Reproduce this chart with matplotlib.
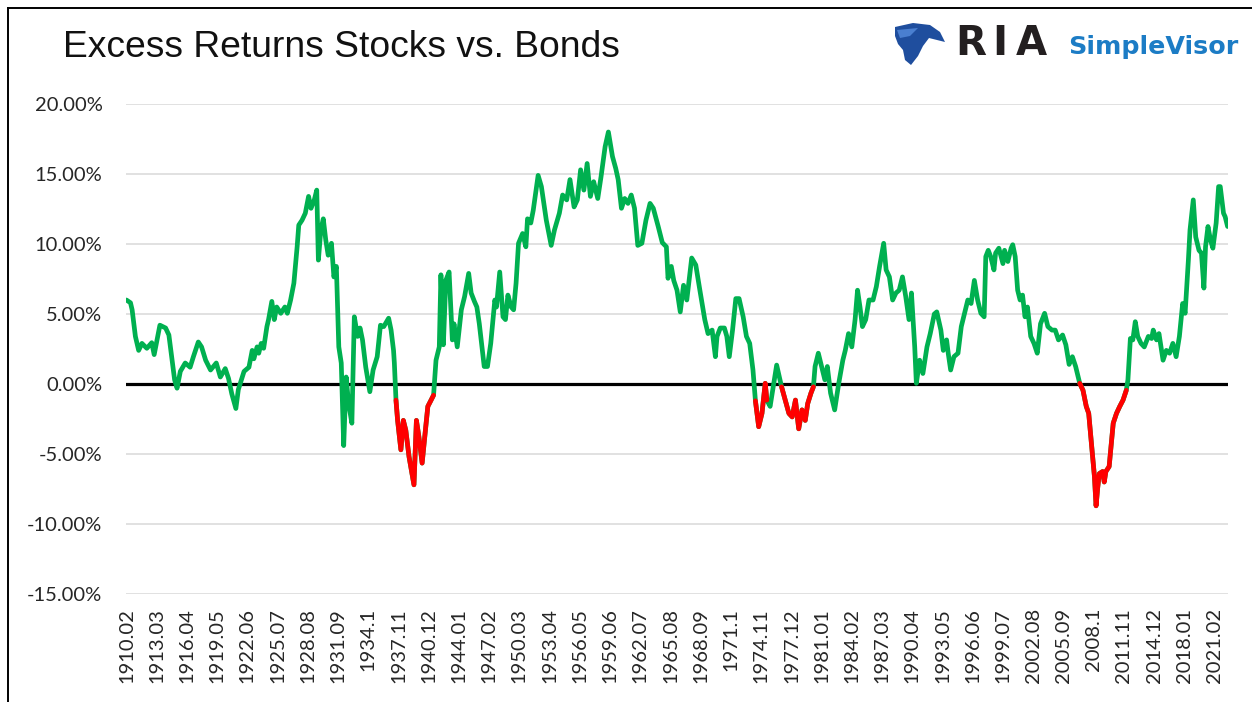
"""Excess returns of stocks over bonds, monthly 1910-2022."""

import numpy as np
import matplotlib
matplotlib.use("Agg")
import matplotlib.pyplot as plt
from matplotlib.patches import Polygon
from matplotlib.lines import Line2D

# values (percent)
dates = [
    "1910-02", "1910-07", "1910-09", "1911-01", "1911-05", "1911-09", "1912-03", "1912-09",
    "1912-12", "1913-07", "1914-02", "1914-06", "1915-01", "1915-04", "1915-08", "1916-02",
    "1916-08", "1916-12", "1917-06", "1917-10", "1918-03", "1918-09", "1919-04", "1919-09",
    "1920-03", "1920-07", "1920-11", "1921-04", "1921-07", "1922-02", "1922-08", "1922-12",
    "1923-02", "1923-06", "1923-08", "1923-11", "1924-02", "1924-06", "1924-08", "1924-12",
    "1925-03", "1925-06", "1925-11", "1926-04", "1926-07", "1926-11", "1927-03", "1927-07",
    "1927-09", "1928-01", "1928-05", "1928-09", "1928-12", "1929-04", "1929-07", "1929-09",
    "1929-12", "1930-03", "1930-06", "1930-09", "1931-01", "1931-04", "1931-07", "1931-10",
    "1932-01", "1932-04", "1932-07", "1932-10", "1933-02", "1933-05", "1933-09", "1933-12",
    "1934-03", "1934-07", "1934-12", "1935-04", "1935-09", "1936-01", "1936-05", "1936-11",
    "1937-02", "1937-05", "1937-06", "1937-08", "1937-10", "1938-02", "1938-05", "1938-08",
    "1938-12", "1939-06", "1939-09", "1939-12", "1940-04", "1940-08", "1940-11", "1941-03",
    "1941-06", "1941-09", "1942-01", "1942-03", "1942-06", "1942-09", "1943-01", "1943-05",
    "1943-07", "1943-11", "1944-04", "1944-08", "1945-01", "1945-04", "1945-08", "1945-11",
    "1946-02", "1946-08", "1946-12", "1947-04", "1947-09", "1947-11", "1948-03", "1948-07",
    "1948-10", "1949-01", "1949-05", "1949-08", "1949-11", "1950-02", "1950-07", "1950-11",
    "1951-01", "1951-05", "1951-08", "1952-02", "1952-06", "1952-12", "1953-06", "1953-10",
    "1954-04", "1954-08", "1955-01", "1955-05", "1955-10", "1956-02", "1956-06", "1956-10",
    "1957-02", "1957-06", "1957-10", "1958-03", "1958-07", "1958-12", "1959-04", "1959-09",
    "1960-01", "1960-04", "1960-08", "1960-12", "1961-04", "1961-08", "1961-12", "1962-04",
    "1962-09", "1963-02", "1963-07", "1963-11", "1964-05", "1964-10", "1965-03", "1965-05",
    "1965-09", "1965-12", "1966-04", "1966-08", "1966-12", "1967-04", "1967-10", "1968-03",
    "1968-08", "1969-02", "1969-06", "1969-11", "1970-03", "1970-05", "1970-09", "1971-02",
    "1971-05", "1971-08", "1971-12", "1972-04", "1972-08", "1973-01", "1973-05", "1973-09",
    "1974-01", "1974-04", "1974-08", "1974-12", "1975-04", "1975-06", "1975-10", "1976-06",
    "1976-12", "1977-09", "1978-01", "1978-05", "1978-09", "1979-01", "1979-05", "1979-08",
    "1979-12", "1980-03", "1980-05", "1980-09", "1981-01", "1981-05", "1981-08", "1981-12",
    "1982-05", "1982-10", "1983-03", "1983-06", "1983-10", "1984-02", "1984-06", "1984-09",
    "1984-12", "1985-03", "1985-07", "1985-11", "1986-04", "1986-08", "1986-12", "1987-05",
    "1987-08", "1987-12", "1988-04", "1988-08", "1988-12", "1989-04", "1989-08", "1989-12",
    "1990-03", "1990-07", "1990-09", "1991-01", "1991-05", "1991-10", "1992-02", "1992-07",
    "1992-10", "1993-03", "1993-06", "1993-10", "1993-12", "1994-03", "1994-07", "1994-12",
    "1995-04", "1995-08", "1995-12", "1996-04", "1996-08", "1996-12", "1997-04", "1997-08",
    "1997-10", "1998-01", "1998-04", "1998-08", "1998-10", "1999-02", "1999-07", "1999-09",
    "2000-01", "2000-05", "2000-07", "2000-10", "2001-01", "2001-04", "2001-07", "2001-10",
    "2002-01", "2002-05", "2002-09", "2003-01", "2003-05", "2003-10", "2004-02", "2004-07",
    "2004-11", "2005-03", "2005-08", "2005-12", "2006-04", "2006-08", "2006-12", "2007-05",
    "2007-09", "2008-01", "2008-04", "2008-08", "2008-11", "2009-01", "2009-03", "2009-05",
    "2009-09", "2009-11", "2010-01", "2010-05", "2010-10", "2011-02", "2011-06", "2011-10",
    "2012-02", "2012-04", "2012-07", "2012-10", "2013-01", "2013-04", "2013-08", "2013-12",
    "2014-05", "2014-09", "2014-11", "2015-03", "2015-06", "2015-11", "2016-03", "2016-07",
    "2016-11", "2017-03", "2017-07", "2017-11", "2018-02", "2018-06", "2018-08", "2018-12",
    "2019-03", "2019-07", "2019-10", "2020-01", "2020-03", "2020-06", "2020-09", "2020-12",
    "2021-04", "2021-07", "2021-09", "2022-01", "2022-03", "2022-06",
]
excess = [
    6.0, 5.8, 5.3, 3.4, 2.4, 2.9, 2.55, 2.95,
    2.1, 4.2, 4.0, 3.5, 0.3, -0.3, 0.9, 1.5,
    1.2, 1.95, 3.0, 2.65, 1.7, 1.0, 1.5, 0.5,
    1.1, 0.4, -0.7, -1.75, -0.4, 0.9, 1.2, 2.4,
    1.8, 2.65, 2.2, 2.9, 2.55, 4.1, 4.6, 5.9,
    4.6, 5.5, 5.05, 5.5, 5.05, 6.0, 7.2, 9.8,
    11.35, 11.7, 12.2, 13.4, 12.55, 13.15, 13.85, 8.85,
    11.0, 11.8, 10.3, 9.2, 10.05, 7.65, 8.4, 2.65,
    1.5, -4.4, 0.5, -1.4, -2.8, 4.8, 3.4, 4.0,
    3.15, 1.2, -0.55, 1.0, 1.95, 4.2, 4.1, 4.7,
    3.85, 2.4, 1.5, -1.15, -2.6, -4.7, -2.6, -3.3,
    -5.2, -7.2, -2.6, -3.75, -5.65, -3.3, -1.6, -1.15,
    -0.8, 1.7, 2.65, 7.8, 2.8, 7.4, 8.0, 3.15,
    4.3, 2.65, 5.3, 6.25, 7.9, 6.5, 5.9, 5.5,
    4.3, 1.25, 1.25, 2.9, 6.0, 5.5, 8.0, 4.8,
    4.6, 6.35, 5.5, 5.3, 7.2, 10.05, 10.75, 9.8,
    11.8, 11.5, 12.4, 14.9, 14.1, 11.7, 9.9, 11.0,
    12.2, 13.5, 13.15, 14.6, 12.65, 13.15, 15.3, 13.85,
    15.75, 13.4, 14.45, 13.25, 14.8, 16.95, 18.0, 16.25,
    15.4, 14.6, 12.55, 13.25, 12.9, 13.5, 12.55, 9.9,
    10.05, 11.7, 12.9, 12.55, 11.25, 10.1, 9.8, 7.55,
    8.4, 7.4, 6.7, 5.15, 7.05, 6.0, 9.0, 8.5,
    6.7, 4.6, 3.6, 3.85, 1.95, 3.4, 4.0, 4.0,
    3.4, 1.95, 3.85, 6.1, 6.1, 4.8, 3.4, 2.9,
    1.0, -1.2, -3.05, -2.1, 0.05, -1.15, -1.6, 1.35,
    -0.2, -2.1, -2.35, -1.15, -3.2, -1.85, -2.6, -1.4,
    -0.65, -0.2, 1.25, 2.2, 1.25, 0.3, 1.25, -0.65,
    -1.85, 0.05, 1.7, 2.4, 3.6, 2.65, 4.6, 6.7,
    5.5, 4.1, 4.6, 6.0, 6.0, 6.95, 8.4, 10.05,
    8.15, 7.65, 6.0, 6.5, 6.7, 7.65, 6.25, 4.6,
    6.5, 2.65, 0.05, 1.7, 0.75, 2.65, 3.6, 5.0,
    5.15, 3.85, 2.4, 3.15, 2.2, 1.0, 1.95, 2.2,
    4.1, 5.05, 6.0, 5.75, 7.4, 6.0, 5.05, 4.8,
    9.1, 9.55, 9.1, 8.15, 9.35, 9.7, 8.6, 9.55,
    8.75, 9.7, 9.95, 9.1, 6.7, 6.0, 6.35, 4.8,
    5.5, 3.4, 2.9, 2.2, 4.3, 5.05, 4.1, 3.85,
    3.85, 3.15, 3.5, 2.8, 1.4, 1.95, 1.25, 0.05,
    -0.45, -1.6, -2.1, -4.7, -6.6, -8.7, -7.4, -6.4,
    -6.25, -7.0, -6.25, -5.9, -2.8, -2.1, -1.6, -1.15,
    -0.45, 0.3, 3.25, 3.15, 4.45, 3.4, 2.9, 2.65,
    3.4, 3.25, 3.85, 3.15, 3.6, 1.7, 2.4, 2.2,
    2.9, 1.95, 3.4, 5.75, 5.05, 8.85, 11.0, 13.15,
    10.5, 9.55, 9.35, 6.85, 9.8, 11.25, 10.3, 9.7,
    11.5, 14.1, 14.1, 12.2, 11.95, 11.25,
]

# stretches drawn in red
red_periods = [
    ("1937-08", "1941-06"),
    ("1974-04", "1975-06"),
    ("1976-12", "1980-03"),
    ("2007-05", "2012-02"),
]

first_month = "1910-02"
last_month = "2022-06"
tick_labels = [
    "1910.02", "1913.03", "1916.04", "1919.05", "1922.06", "1925.07", "1928.08",
    "1931.09", "1934.1", "1937.11", "1940.12", "1944.01", "1947.02", "1950.03",
    "1953.04", "1956.05", "1959.06", "1962.07", "1965.08", "1968.09", "1971.1",
    "1974.11", "1977.12", "1981.01", "1984.02", "1987.03", "1990.04", "1993.05",
    "1996.06", "1999.07", "2002.08", "2005.09", "2008.1", "2011.11", "2014.12",
    "2018.01", "2021.02",
]
tick_step = 37  # months between labels
y_ticks = [-15, -10, -5, 0, 5, 10, 15, 20]

GREEN = "#00B050"
RED = "#FF0000"
GRID = "#D9D9D9"
TEXT = "#262626"
W, H = 1252, 702


def month_index(d: str) -> int:
    """Months since the first observation."""
    y, m = d.split("-")
    y0, m0 = first_month.split("-")
    return (int(y) - int(y0)) * 12 + int(m) - int(m0)


def px(x, y):
    """Figure pixel (from top-left) -> figure fraction."""
    return x / W, 1 - y / H


x = np.array([month_index(d) for d in dates])
v = np.array(excess)
n_months = month_index(last_month) + 1

fig = plt.figure(figsize=(W / 100, H / 100), dpi=100)
fig.patch.set_facecolor("white")
ax = fig.add_axes([126 / W, 108 / H, 1102 / W, 490 / H])

line_kw = dict(lw=3.4, solid_joinstyle="round", solid_capstyle="round")
ax.plot(x, v, color=GREEN, zorder=3, **line_kw)
for start, end in red_periods:
    mask = (x >= month_index(start)) & (x <= month_index(end))
    ax.plot(x[mask], v[mask], color=RED, zorder=4, **line_kw)
ax.axhline(0, color="black", lw=2.3, zorder=2)

ax.set_xlim(-0.5, n_months - 0.5)
ax.set_ylim(min(y_ticks), max(y_ticks))
ax.set_yticks(y_ticks)
ax.set_yticklabels([f"{t:.2f}%" for t in y_ticks], family="Lato", fontsize=14.5, color=TEXT)
ax.set_xticks(np.arange(len(tick_labels)) * tick_step)
ax.set_xticklabels(tick_labels, rotation=90, family="Lato", fontsize=14.5, color=TEXT)
ax.tick_params(length=0)
ax.tick_params(axis="y", pad=17)
ax.tick_params(axis="x", pad=10)
ax.yaxis.grid(True, color=GRID, lw=1.1)
ax.set_axisbelow(True)
for s in ax.spines.values():
    s.set_visible(False)

# title
fig.text(*px(63, 57), "Excess Returns Stocks vs. Bonds", family="Liberation Sans",
         fontsize=26.8, color="#111111", va="baseline", ha="left")

# logo: eagle mark + wordmark
eagle = [(895, 27), (913, 23), (930, 25), (940, 32), (945, 42), (937, 40), (929, 38),
         (923, 46), (918, 56), (911, 65), (905, 60), (903, 50), (898, 44), (895, 36)]
fig.add_artist(Polygon([px(a, b) for a, b in eagle], closed=True, transform=fig.transFigure,
                       facecolor="#1F4E9E", edgecolor="none"))
wing = [(897, 30), (918, 28), (910, 36), (900, 38)]
fig.add_artist(Polygon([px(a, b) for a, b in wing], closed=True, transform=fig.transFigure,
                       facecolor="#4A7FD0", edgecolor="none"))
for letter, lx in [("R", 955), ("I", 992), ("A", 1016)]:
    fig.text(*px(lx, 55), letter, family="DejaVu Sans", fontweight="bold", fontsize=29,
             color="#231F20", va="baseline", ha="left")
fig.text(*px(1068, 54), "SimpleVisor", family="DejaVu Sans", fontweight="bold",
         fontsize=18.3, color="#1C7CC5", va="baseline", ha="left")

# frame of the screenshot
fig.add_artist(Line2D([7.5 / W, 7.5 / W], [0, 1 - 7.5 / H], transform=fig.transFigure,
                      color="black", lw=1.4))
fig.add_artist(Line2D([7.5 / W, 1], [1 - 7.5 / H, 1 - 7.5 / H], transform=fig.transFigure,
                      color="black", lw=1.4))

fig.savefig("out.png", dpi=100)
plt.close(fig)
